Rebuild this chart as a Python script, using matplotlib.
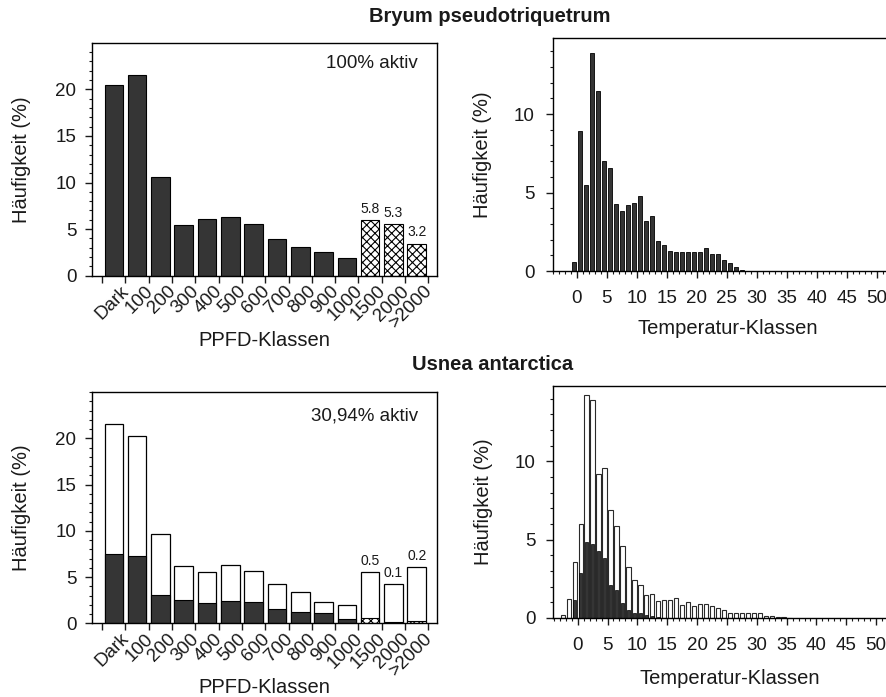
import numpy as np
import matplotlib
matplotlib.use('Agg')
import matplotlib.pyplot as plt
from matplotlib.ticker import MultipleLocator, FixedLocator, NullFormatter

plt.rcParams['font.family'] = ['Liberation Sans', 'DejaVu Sans']
plt.rcParams['hatch.linewidth'] = 0.8
plt.rcParams['text.color'] = '#1a1a1a'
plt.rcParams['axes.labelcolor'] = '#1a1a1a'
plt.rcParams['xtick.color'] = '#1a1a1a'
plt.rcParams['ytick.color'] = '#1a1a1a'

# ---------------- data ----------------
ppfd_classes = ['Dark', '100', '200', '300', '400', '500', '600', '700',
                '800', '900', '1000', '1500', '2000', '>2000']

bryum_ppfd = [20.5, 21.5, 10.6, 5.45, 6.1, 6.35, 5.6, 3.9, 3.1, 2.5, 1.85, 6.0, 5.5, 3.45]
bryum_ppfd_labels = ['5.8', '5.3', '3.2']          # printed over the last three bars

usnea_ppfd_total = [21.5, 20.2, 9.65, 6.2, 5.6, 6.25, 5.65, 4.2, 3.4, 2.35, 1.95, 5.5, 4.25, 6.1]
usnea_ppfd_active = [7.5, 7.3, 3.1, 2.5, 2.2, 2.45, 2.25, 1.6, 1.25, 1.15, 0.45, 0.6, 0.1, 0.2]
usnea_ppfd_labels = ['0.5', '0.1', '0.2']

bryum_temp_lower = list(range(-1, 29))
bryum_temp = [0.55, 8.9, 5.5, 13.9, 11.45, 7.0, 6.55, 4.25, 3.8, 4.2,
              4.3, 4.75, 3.2, 3.5, 1.9, 1.65, 1.3, 1.2, 1.2, 1.2,
              1.2, 1.2, 1.45, 1.1, 1.1, 0.72, 0.5, 0.25, 0.08, 0.02]

usnea_temp_lower = list(range(-3, 36))
usnea_temp_total = [0.17, 1.23, 3.6, 6.0, 14.2, 13.9, 9.2, 9.6, 6.9, 5.85,
                    4.6, 3.26, 2.45, 2.1, 1.45, 1.55, 1.06, 1.17, 1.13, 1.28,
                    0.85, 1.02, 0.79, 0.91, 0.91, 0.77, 0.66, 0.5, 0.35, 0.3,
                    0.3, 0.3, 0.35, 0.3, 0.12, 0.1, 0.08, 0.05, 0.03]
usnea_temp_active = [0.0, 0.0, 1.15, 2.9, 4.85, 4.75, 4.3, 3.8, 2.1, 1.8,
                     0.96, 0.5, 0.32, 0.32, 0.2, 0.15, 0.05, 0.0, 0.0, 0.0,
                     0.0, 0.0, 0.0, 0.0, 0.0, 0.0, 0.0, 0.0, 0.0, 0.0,
                     0.0, 0.0, 0.0, 0.0, 0.0, 0.0, 0.0, 0.0, 0.0]

# ---------------- layout ----------------
W, H = 887, 697
DARK = '#353535'
fig = plt.figure(figsize=(W / 100, H / 100), dpi=100)
fig.patch.set_facecolor('white')


def box(l, t, r, b):
    return [l / W, 1 - b / H, (r - l) / W, (b - t) / H]


TICK_FS = 13.5
LABEL_FS = 14.5


def style_ppfd(ax, ytop):
    x = np.arange(len(ppfd_classes))
    ax.set_xlim(-0.95, 13.87)
    ax.set_ylim(0, ytop)
    ax.xaxis.set_major_locator(FixedLocator(np.arange(-0.5, len(ppfd_classes), 1.0)))
    ax.xaxis.set_major_formatter(NullFormatter())
    ax.xaxis.set_minor_locator(FixedLocator(x + 0.3))
    ax.set_xticklabels(ppfd_classes, minor=True, rotation=45, ha='right', va='top',
                       rotation_mode='anchor', fontsize=13.5)
    ax.tick_params(axis='x', which='minor', length=0, pad=5)
    ax.tick_params(axis='x', which='major', length=5, width=1, direction='out')
    ax.yaxis.set_major_locator(FixedLocator([0, 5, 10, 15, 20]))
    ax.yaxis.set_minor_locator(MultipleLocator(1))
    ax.tick_params(axis='y', which='major', length=5, width=1, labelsize=TICK_FS, pad=6)
    ax.tick_params(axis='y', which='minor', length=2.5, width=0.8)
    ax.set_ylabel('Häufigkeit (%)', fontsize=LABEL_FS)
    ax.yaxis.set_label_coords(-0.176, 0.5)
    ax.set_xlabel('PPFD-Klassen', fontsize=LABEL_FS, va='center')
    ax.xaxis.set_label_coords(0.5, -0.278)
    for s in ax.spines.values():
        s.set_linewidth(1.0)


def style_temp(ax, ytop):
    ax.set_xlim(-4.05, 55)
    ax.set_ylim(0, ytop)
    ax.xaxis.set_major_locator(FixedLocator(np.arange(0, 51, 5)))
    ax.xaxis.set_minor_locator(MultipleLocator(1))
    ax.yaxis.set_major_locator(FixedLocator([0, 5, 10]))
    ax.yaxis.set_minor_locator(MultipleLocator(1))
    ax.tick_params(axis='both', which='major', length=5, width=1, labelsize=TICK_FS)
    ax.tick_params(axis='x', which='major', pad=9)
    ax.tick_params(axis='y', which='major', pad=8)
    ax.tick_params(axis='both', which='minor', length=2.5, width=0.8)
    ax.set_ylabel('Häufigkeit (%)', fontsize=LABEL_FS)
    ax.yaxis.set_label_coords(-0.171, 0.5)
    ax.set_xlabel('Temperatur-Klassen', fontsize=LABEL_FS, va='center')
    for s in ax.spines.values():
        s.set_linewidth(1.0)


# --- top left: Bryum PPFD ---
ax1 = fig.add_axes(box(91.7, 43.3, 437, 275.7))
x = np.arange(len(ppfd_classes))
nh = len(ppfd_classes) - len(bryum_ppfd_labels)
ax1.bar(x[:nh], bryum_ppfd[:nh], width=0.8, color=DARK, edgecolor='black', linewidth=0.8)
ax1.bar(x[nh:], bryum_ppfd[nh:], width=0.8, color='white', edgecolor='black',
        linewidth=0.8, hatch='xxxx')
for xi, v, lab in zip(x[nh:], bryum_ppfd[nh:], bryum_ppfd_labels):
    ax1.text(xi, v + 0.45, lab, ha='center', va='bottom', fontsize=10)
ax1.text(0.945, 0.912, '100% aktiv', transform=ax1.transAxes, ha='right', va='center',
         fontsize=13.5)
style_ppfd(ax1, 24.94)

# --- bottom left: Usnea PPFD ---
ax3 = fig.add_axes(box(91.7, 391.7, 437, 623.3))
ax3.bar(x, usnea_ppfd_total, width=0.8, color='white', edgecolor='black', linewidth=0.9)
ax3.bar(x[:nh], usnea_ppfd_active[:nh], width=0.8, color=DARK, edgecolor='black', linewidth=0.8)
ax3.bar(x[nh:], usnea_ppfd_active[nh:], width=0.8, color='white', edgecolor='black',
        linewidth=0.8, hatch='xxxx')
for xi, v, lab in zip(x[nh:], usnea_ppfd_total[nh:], usnea_ppfd_labels):
    ax3.text(xi, v + 0.45, lab, ha='center', va='bottom', fontsize=10)
ax3.text(0.945, 0.895, '30,94% aktiv', transform=ax3.transAxes, ha='right', va='center',
         fontsize=13.5)
style_ppfd(ax3, 25.04)

# --- top right: Bryum temperature ---
ax2 = fig.add_axes(box(552.7, 37.7, 906.5, 271))
tc = np.array(bryum_temp_lower) + 0.5
ax2.bar(tc, bryum_temp, width=0.62, color=DARK, edgecolor='black', linewidth=0.6)
style_temp(ax2, 14.86)
ax2.xaxis.set_label_coords(0.495, -0.245)

# --- bottom right: Usnea temperature ---
ax4 = fig.add_axes(box(553.5, 386, 906, 618))
uc = np.array(usnea_temp_lower) + 0.5
ax4.bar(uc, usnea_temp_total, width=0.72, color='white', edgecolor='#2a2a2a', linewidth=0.8)
ax4.bar(uc, usnea_temp_active, width=0.5, color=DARK, edgecolor='black', linewidth=0.5)
style_temp(ax4, 14.8)
ax4.xaxis.set_label_coords(0.501, -0.259)

# --- titles ---
fig.text(490 / W, 1 - 17 / H, 'Bryum pseudotriquetrum', ha='center', va='center',
         fontsize=14.5, fontweight='bold')
fig.text(493 / W, 1 - 365 / H, 'Usnea antarctica', ha='center', va='center',
         fontsize=14.5, fontweight='bold')

fig.savefig('out.png', dpi=100, facecolor='white')
